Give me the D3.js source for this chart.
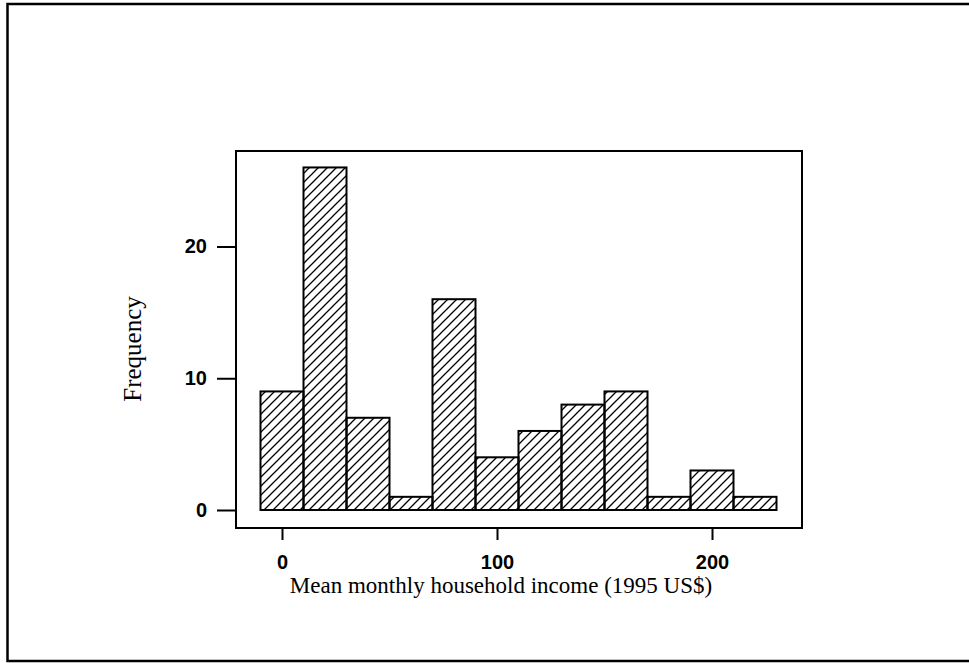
<!DOCTYPE html>
<html>
<head>
<meta charset="utf-8">
<script src="https://cdn.jsdelivr.net/npm/d3@7"></script>
<style>
  body { margin: 0; background: #fff; }
  svg { display: block; }
</style>
</head>
<body>
<div class="chart"></div>
<script>
// histogram bins (lower edge, width 20) and counts
const binStarts = [-10, 10, 30, 50, 70, 90, 110, 130, 150, 170, 190, 210];
const binWidth = 20;
const counts = [9, 26, 7, 1, 16, 4, 6, 8, 9, 1, 3, 1];
const xTicks = [0, 100, 200];
const yTicks = [0, 10, 20];

const width = 969, height = 663;

const svg = d3.select(".chart").append("svg")
  .attr("width", width)
  .attr("height", height);

// hatch fill
const defs = svg.append("defs");
defs.append("pattern")
  .attr("id", "hatch")
  .attr("patternUnits", "userSpaceOnUse")
  .attr("width", 9)
  .attr("height", 9)
  .append("path")
  .attr("d", "M-2,2 l4,-4 M0,9 l9,-9 M7,11 l4,-4")
  .attr("stroke", "black")
  .attr("stroke-width", 1.3);

// outer frame of the figure
svg.append("path")
  .attr("d", "M980,4 H7.5 V661 H980")
  .attr("fill", "none")
  .attr("stroke", "black")
  .attr("stroke-width", 2.5);

const box = { left: 236, top: 151, right: 802, bottom: 528 };

const x = d3.scaleLinear().domain([0, 200]).range([282, 712]);
const y = d3.scaleLinear().domain([0, 20]).range([510, 246.5]);

// plot box
svg.append("rect")
  .attr("x", box.left)
  .attr("y", box.top)
  .attr("width", box.right - box.left)
  .attr("height", box.bottom - box.top)
  .attr("fill", "none")
  .attr("stroke", "black")
  .attr("stroke-width", 2);

// bars
svg.selectAll(".bar")
  .data(counts)
  .join("rect")
  .attr("class", "bar")
  .attr("x", (d, i) => x(binStarts[i]))
  .attr("y", d => y(d))
  .attr("width", (d, i) => x(binStarts[i] + binWidth) - x(binStarts[i]))
  .attr("height", d => y(0) - y(d))
  .attr("fill", "url(#hatch)")
  .attr("stroke", "black")
  .attr("stroke-width", 2);

// x axis
const xAxis = svg.append("g")
  .attr("transform", `translate(0,${box.bottom})`)
  .call(d3.axisBottom(x).tickValues(xTicks).tickSize(12).tickPadding(15).tickFormat(d3.format("d")));
xAxis.select(".domain").remove();
xAxis.selectAll("line").attr("stroke-width", 2);
xAxis.selectAll("text")
  .attr("font-family", "Liberation Sans, Arial, sans-serif")
  .attr("font-size", 20)
  .attr("font-weight", "bold")
  .attr("fill", "black");

// y axis
const yAxis = svg.append("g")
  .attr("transform", `translate(${box.left},0)`)
  .call(d3.axisLeft(y).tickValues(yTicks).tickSize(19).tickPadding(10).tickFormat(d3.format("d")));
yAxis.select(".domain").remove();
yAxis.selectAll("line").attr("stroke-width", 2);
yAxis.selectAll("text")
  .attr("font-family", "Liberation Sans, Arial, sans-serif")
  .attr("font-size", 20)
  .attr("font-weight", "bold")
  .attr("fill", "black");

// axis titles
svg.append("text")
  .attr("x", 501)
  .attr("y", 593)
  .attr("text-anchor", "middle")
  .attr("font-family", "Liberation Serif, Times New Roman, serif")
  .attr("font-size", 23)
  .text("Mean monthly household income (1995 US$)");

svg.append("text")
  .attr("transform", "translate(141,349) rotate(-90)")
  .attr("text-anchor", "middle")
  .attr("font-family", "Liberation Serif, Times New Roman, serif")
  .attr("font-size", 25)
  .text("Frequency");
</script>
</body>
</html>
